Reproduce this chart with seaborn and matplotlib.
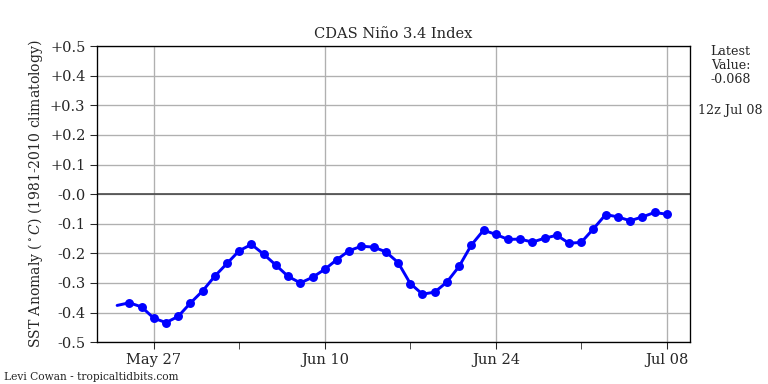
import numpy as np
import pandas as pd
import matplotlib
matplotlib.use("Agg")
import matplotlib.pyplot as plt
import matplotlib.dates as mdates
from matplotlib.ticker import FuncFormatter, MultipleLocator
import seaborn as sns

# daily Nino 3.4 values, May 25 - Jul 08
start_value = -0.376  # line starts May 24, no marker there
anomaly = [-0.367, -0.381, -0.419, -0.434, -0.413, -0.368, -0.327, -0.277,
           -0.234, -0.191, -0.170, -0.203, -0.240, -0.278, -0.300, -0.281,
           -0.254, -0.221, -0.191, -0.176, -0.179, -0.195, -0.231, -0.302,
           -0.338, -0.331, -0.297, -0.244, -0.172, -0.122, -0.136, -0.153,
           -0.152, -0.162, -0.149, -0.139, -0.166, -0.163, -0.117, -0.069,
           -0.077, -0.090, -0.077, -0.062, -0.068]
latest = "-0.068"
latest_time = "12z Jul 08"
major_ticks = ["2020-05-27", "2020-06-10", "2020-06-24", "2020-07-08"]
minor_ticks = ["2020-06-03", "2020-06-17", "2020-07-01"]

dates = pd.date_range("2020-05-25", periods=len(anomaly), freq="D")
pts = pd.DataFrame({"date": dates, "anom": anomaly})
line = pd.concat([pd.DataFrame({"date": [pd.Timestamp("2020-05-24")],
                                "anom": [start_value]}), pts], ignore_index=True)

sns.set_style("ticks")
plt.rcParams["font.family"] = ["DejaVu Serif"]
plt.rcParams["mathtext.fontset"] = "dejavuserif"

fig = plt.figure(figsize=(8, 4), dpi=96)
ax = fig.add_axes([0.126, 0.109, 0.772, 0.771])

ax.grid(True, color="#b0b0b0", linewidth=1)
ax.axhline(0, color="#444444", linewidth=1.2, zorder=2)
sns.lineplot(data=line, x="date", y="anom", color="blue", linewidth=2.2,
             ax=ax, zorder=3)
sns.scatterplot(data=pts, x="date", y="anom", color="blue", s=45,
                edgecolor="blue", linewidth=0, ax=ax, zorder=4)

ax.set_ylim(-0.5, 0.5)
ax.yaxis.set_major_locator(MultipleLocator(0.1))
ax.yaxis.set_major_formatter(FuncFormatter(
    lambda v, p: "-0.0" if abs(v) < 1e-9 else f"{v:+.1f}"))
ax.set_xlim(pd.Timestamp("2020-05-22 08:00"), pd.Timestamp("2020-07-09 21:00"))
ax.set_xticks(pd.to_datetime(major_ticks))
ax.set_xticks(pd.to_datetime(minor_ticks), minor=True)
ax.xaxis.set_major_formatter(mdates.DateFormatter("%b %d"))
ax.tick_params(axis="both", which="both", labelsize=11, length=5, direction="out")
ax.grid(False, which="minor")

for s in ax.spines.values():
    s.set_visible(True)
    s.set_color("black")
    s.set_linewidth(1)

ax.set_xlabel("")
ax.set_ylabel(r"SST Anomaly ($^\circ C$) (1981-2010 climatology)", fontsize=10.5)
ax.set_title("CDAS Niño 3.4 Index", fontsize=11)

fig.text(0.951, 0.882, f"Latest\nValue:\n{latest}", ha="center", va="top",
         fontsize=9.5, linespacing=1.1)
fig.text(0.951, 0.711, latest_time, ha="center", va="center", fontsize=9.5)
fig.text(0.005, 0.005, "Levi Cowan - tropicaltidbits.com", ha="left",
         va="bottom", fontsize=8)

fig.savefig("out.png", dpi=96)
